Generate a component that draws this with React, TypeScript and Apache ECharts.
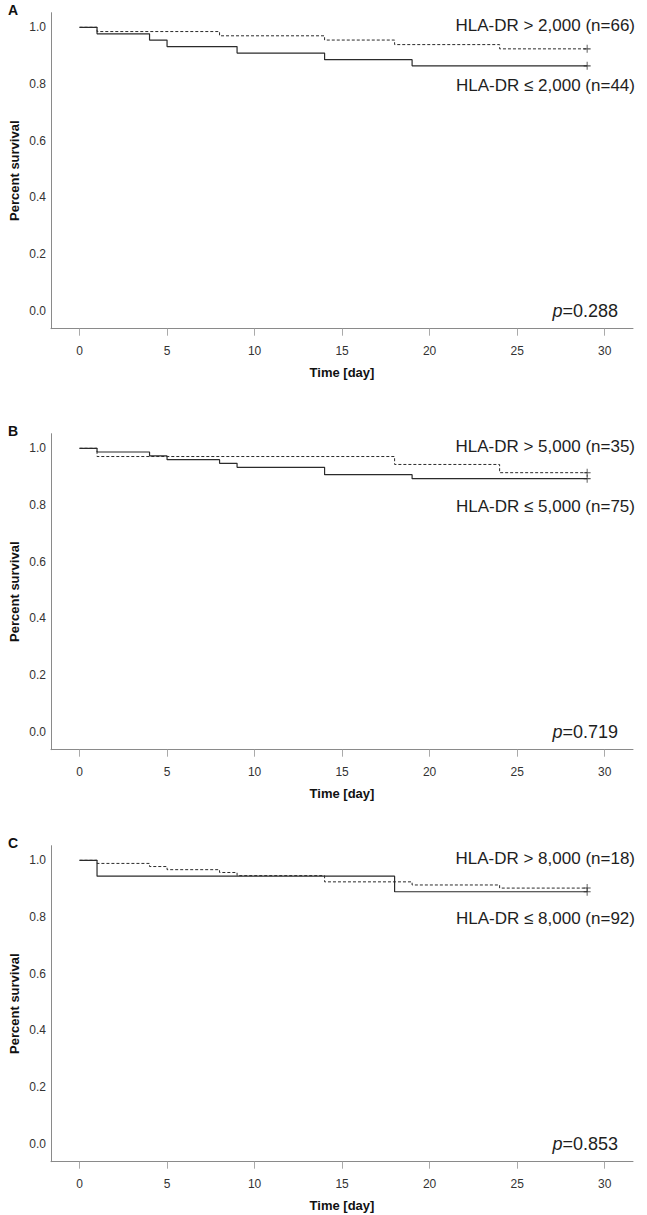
import React, { useEffect, useRef } from "react";
import * as echarts from "echarts";

// ---- data ----
const xTicks = [0, 5, 10, 15, 20, 25, 30];
const yTicks = [0, 0.2, 0.4, 0.6, 0.8, 1.0];
const panelLetters = ["A", "B", "C"];
const pValues = ["0.288", "0.719", "0.853"];
const highLabels = ["HLA-DR > 2,000 (n=66)", "HLA-DR > 5,000 (n=35)", "HLA-DR > 8,000 (n=18)"];
const lowLabels = ["HLA-DR ≤ 2,000 (n=44)", "HLA-DR ≤ 5,000 (n=75)", "HLA-DR ≤ 8,000 (n=92)"];

// Panel A
const aDashedTimes = [0, 1, 8, 14, 18, 24, 29];
const aDashedSurv = [1, 0.985, 0.970, 0.955, 0.939, 0.924, 0.924];
const aSolidTimes = [0, 1, 4, 5, 9, 14, 19, 29];
const aSolidSurv = [1, 0.977, 0.955, 0.932, 0.909, 0.886, 0.864, 0.864];
// Panel B
const bDashedTimes = [0, 1, 18, 24, 29];
const bDashedSurv = [1, 0.971, 0.943, 0.914, 0.914];
const bSolidTimes = [0, 1, 4, 5, 8, 9, 14, 19, 29];
const bSolidSurv = [1, 0.987, 0.973, 0.960, 0.947, 0.933, 0.907, 0.893, 0.893];
// Panel C
const cDashedTimes = [0, 1, 4, 5, 8, 9, 14, 19, 24, 29];
const cDashedSurv = [1, 0.989, 0.978, 0.967, 0.957, 0.946, 0.924, 0.913, 0.902, 0.902];
const cSolidTimes = [0, 1, 18, 29];
const cSolidSurv = [1, 0.944, 0.889, 0.889];

const dashedSets = [
  [aDashedTimes, aDashedSurv],
  [bDashedTimes, bDashedSurv],
  [cDashedTimes, cDashedSurv],
];
const solidSets = [
  [aSolidTimes, aSolidSurv],
  [bSolidTimes, bSolidSurv],
  [cSolidTimes, cSolidSurv],
];

const FONT = "'Liberation Sans', Arial, Helvetica, sans-serif";
const OFFSETS = [0, 421, 833];
const GL = 51;
const GT = 12.7;
const GW = 582;
const GH = 316;
const X_MIN = -1.63;
const X_MAX = 31.62;
const Y_MIN = -0.063;
const Y_MAX = 1.0515;
const AXIS_COLOR = "#8a8a8a";
const LINE_COLOR = "#2b2b2b";
const TEXT_COLOR = "#1e1e1e";

const zip = (t: number[], s: number[]) => t.map((v, i) => [v, s[i]]);
const PLUS = "path://M0,5L10,5M5,0L5,10";

export default function App() {
  const ref = useRef<HTMLDivElement>(null);
  useEffect(() => {
    if (!ref.current) return;
    const chart = echarts.init(ref.current, undefined, { renderer: "svg" });
    const grids: any[] = [];
    const xAxes: any[] = [];
    const yAxes: any[] = [];
    const series: any[] = [];
    const graphics: any[] = [];
    OFFSETS.forEach((o, i) => {
      grids.push({ left: GL, top: GT + o, width: GW, height: GH, containLabel: false });
      xAxes.push({
        gridIndex: i,
        type: "value",
        min: X_MIN,
        max: X_MAX,
        axisLine: { show: true, onZero: false, lineStyle: { color: AXIS_COLOR, width: 1 } },
        axisTick: { show: true, customValues: xTicks, length: 7, lineStyle: { color: "#aaaaaa" } },
        axisLabel: { customValues: xTicks, margin: 16, color: "#333", fontSize: 12, fontFamily: FONT },
        splitLine: { show: false },
      });
      yAxes.push({
        gridIndex: i,
        type: "value",
        min: Y_MIN,
        max: Y_MAX,
        axisLine: { show: true, onZero: false, lineStyle: { color: AXIS_COLOR, width: 1 } },
        axisTick: { show: false },
        axisLabel: {
          customValues: yTicks,
          margin: 5,
          color: "#333",
          fontSize: 12,
          fontFamily: FONT,
          formatter: (v: number) => v.toFixed(1),
        },
        splitLine: { show: false },
      });
      const [dt, ds] = dashedSets[i];
      const [st, ss] = solidSets[i];
      series.push({
        type: "line",
        xAxisIndex: i,
        yAxisIndex: i,
        step: "end",
        symbol: "none",
        data: zip(dt, ds),
        lineStyle: { color: LINE_COLOR, width: 1, type: [3, 2] },
        z: 2,
      });
      series.push({
        type: "line",
        xAxisIndex: i,
        yAxisIndex: i,
        step: "end",
        symbol: "none",
        data: zip(st, ss),
        lineStyle: { color: LINE_COLOR, width: 1.2, type: "solid" },
        z: 3,
      });
      series.push({
        type: "scatter",
        xAxisIndex: i,
        yAxisIndex: i,
        symbol: PLUS,
        symbolSize: [7, 8],
        data: [
          [dt[dt.length - 1], ds[ds.length - 1]],
          [st[st.length - 1], ss[ss.length - 1]],
        ],
        itemStyle: { color: "none", borderColor: LINE_COLOR, borderWidth: 1 },
        z: 4,
      });
      graphics.push({
        type: "text",
        left: 8,
        top: 3 + o,
        style: { text: panelLetters[i], font: `bold 14px ${FONT}`, fill: "#111" },
      });
      graphics.push({
        type: "text",
        x: 14,
        y: GT + o + GH / 2,
        rotation: Math.PI / 2,
        style: {
          text: "Percent survival",
          font: `bold 13px ${FONT}`,
          fill: "#111",
          align: "center",
          verticalAlign: "middle",
        },
      });
      graphics.push({
        type: "text",
        x: GL + GW / 2,
        y: GT + o + GH + 44,
        style: {
          text: "Time [day]",
          font: `bold 13px ${FONT}`,
          fill: "#111",
          align: "center",
          verticalAlign: "middle",
        },
      });
      graphics.push({
        type: "text",
        x: 635,
        y: 25 + o,
        style: {
          text: highLabels[i],
          font: `17px ${FONT}`,
          fill: TEXT_COLOR,
          align: "right",
          verticalAlign: "middle",
        },
      });
      graphics.push({
        type: "text",
        x: 635,
        y: 85 + o,
        style: {
          text: lowLabels[i],
          font: `17px ${FONT}`,
          fill: TEXT_COLOR,
          align: "right",
          verticalAlign: "middle",
        },
      });
      graphics.push({
        type: "text",
        x: 618,
        y: 311 + o,
        style: {
          text: "{i|p}{n|=" + pValues[i] + "}",
          align: "right",
          verticalAlign: "middle",
          rich: {
            i: { font: `italic 18px ${FONT}`, fill: TEXT_COLOR },
            n: { font: `18px ${FONT}`, fill: TEXT_COLOR },
          },
        },
      });
    });
    chart.setOption({
      animation: false,
      backgroundColor: "#ffffff",
      grid: grids,
      xAxis: xAxes,
      yAxis: yAxes,
      series,
      graphic: graphics,
    });
    return () => chart.dispose();
  }, []);
  return (
    <div
      ref={ref}
      style={{ position: "absolute", left: 0, top: 0, width: 647, height: 1215, background: "#fff" }}
    />
  );
}
